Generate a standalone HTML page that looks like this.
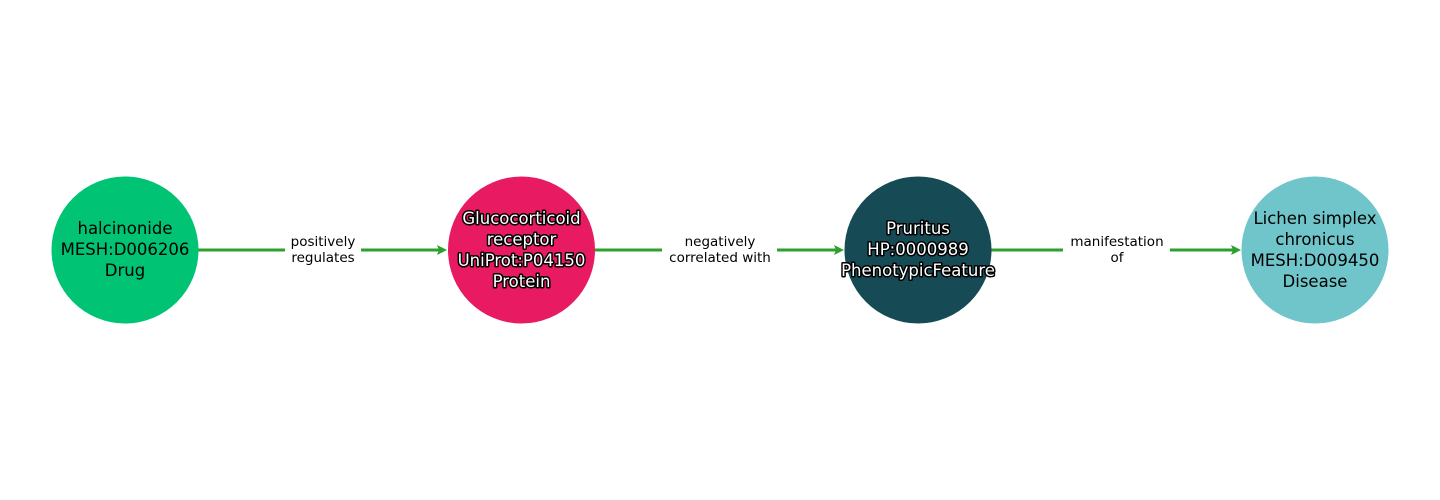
<!DOCTYPE html>
<html><head><meta charset="utf-8"><style>
html,body{margin:0;padding:0;background:#fff;}
svg{display:block}
text{font-family:"DejaVu Sans","Liberation Sans",sans-serif;}
.n{font-size:16.5px;text-anchor:middle;}
.w{fill:#fff;stroke:#000;stroke-width:3px;paint-order:stroke;stroke-linejoin:round;}
.e{font-size:13.5px;text-anchor:middle;fill:#000;}
</style></head><body>
<svg width="1440" height="500" viewBox="0 0 1440 500">
<g stroke="#2ca02c" stroke-width="3" fill="none">
<line x1="198" y1="250" x2="285" y2="250"/><line x1="361" y1="250" x2="442" y2="250"/>
<line x1="595" y1="250" x2="662" y2="250"/><line x1="777" y1="250" x2="839" y2="250"/>
<line x1="991" y1="250" x2="1063" y2="250"/><line x1="1170" y1="250" x2="1236" y2="250"/>
</g>
<g fill="#2ca02c">
<path d="M447,250 L437,245 L439,250 L437,255 Z"/>
<path d="M844,250 L834,245 L836,250 L834,255 Z"/>
<path d="M1241,250 L1231,245 L1233,250 L1231,255 Z"/>
</g>
<circle cx="125" cy="250" r="73.5" fill="#00c373"/>
<circle cx="521.5" cy="250" r="73.5" fill="#e81a62"/>
<circle cx="918" cy="250" r="73.5" fill="#164b55"/>
<circle cx="1315" cy="250" r="73.5" fill="#6fc5ca"/>
<g class="n">
<text x="125" y="234">halcinonide</text><text x="125" y="255">MESH:D006206</text><text x="125" y="276">Drug</text>
<g class="w"><text x="521.5" y="224">Glucocorticoid</text><text x="521.5" y="245">receptor</text><text x="521.5" y="266">UniProt:P04150</text><text x="521.5" y="287">Protein</text></g>
<g class="w"><text x="918" y="234">Pruritus</text><text x="918" y="255">HP:0000989</text><text x="918" y="276">PhenotypicFeature</text></g>
<text x="1315" y="224">Lichen simplex</text><text x="1315" y="245">chronicus</text><text x="1315" y="266">MESH:D009450</text><text x="1315" y="287">Disease</text>
</g>
<g class="e">
<text x="323" y="246">positively</text><text x="323" y="262">regulates</text>
<text x="720" y="246">negatively</text><text x="720" y="262">correlated with</text>
<text x="1117" y="246">manifestation</text><text x="1117" y="262">of</text>
</g>
</svg>
</body></html>
